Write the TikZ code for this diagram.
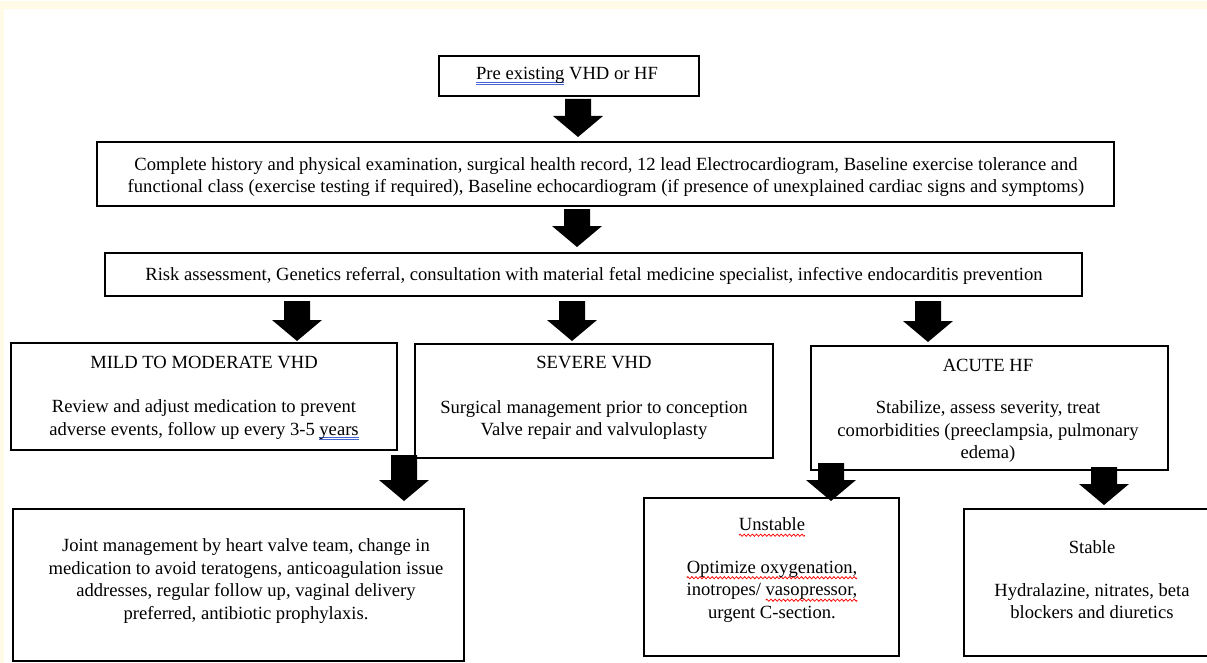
\documentclass[tikz,border=0pt]{standalone}
\usepackage{fontspec}
\setmainfont{Liberation Serif}
\definecolor{cream}{RGB}{255,251,231}
\definecolor{wordblue}{RGB}{70,100,210}
\newsavebox\wavebox
\newcommand\wavy[1]{\setbox0\hbox{#1}\rlap{\raisebox{-4.5bp}{\hbox to \wd0{\xleaders\copy\wavebox\hfill}}}\box0\relax}
\newcommand\dblul[1]{\setbox0\hbox{#1}\rlap{\color{wordblue}\rule[-2.4bp]{\wd0}{0.7bp}}\rlap{\color{wordblue}\rule[-4.4bp]{\wd0}{0.7bp}}\box0\relax}
\newcommand\blockarrow[2]{\fill[black,shift={(#1)}] (-13,0) -- (13,0) -- (13,{#2-21}) -- (25,{#2-21}) -- (0,#2) -- (-25,{#2-21}) -- (-13,{#2-21}) -- cycle;}
\begin{document}
\begin{tikzpicture}[x=1bp,y=-1bp,
  box/.style={draw=black,line width=1.8bp,fill=white,inner sep=0pt},
  txt/.style={align=center,inner sep=0pt,text=black,font={\fontsize{18.6bp}{22.5bp}\selectfont}}]
\sbox\wavebox{\begin{pgfpicture}%
\pgfpathrectangle{\pgfpointorigin}{\pgfpoint{4bp}{1bp}}\pgfusepath{use as bounding box}%
\pgfsetlinewidth{0.75bp}\pgfsetstrokecolor{red}%
\pgfpathmoveto{\pgfpoint{0bp}{0bp}}%
\pgfpathsine{\pgfpoint{1bp}{1.1bp}}%
\pgfpathcosine{\pgfpoint{1bp}{-1.1bp}}%
\pgfpathsine{\pgfpoint{1bp}{-1.1bp}}%
\pgfpathcosine{\pgfpoint{1bp}{1.1bp}}%
\pgfusepath{stroke}%
\end{pgfpicture}}
\useasboundingbox (0,0) rectangle (1207,662);
\fill[cream] (0,0) rectangle (1207,662);
\fill[white] (4,8) rectangle (1207,662);
% boxes
\node[box,minimum width=260bp,minimum height=40bp] (pre) at (569,75) {};
\node[box,minimum width=1017bp,minimum height=64bp] (hist) at (605.5,173) {};
\node[box,minimum width=977bp,minimum height=43bp] (risk) at (593.5,273.5) {};
\node[box,minimum width=386bp,minimum height=107bp] (mild) at (204,395.5) {};
\node[box,minimum width=358bp,minimum height=114bp] (severe) at (594,400) {};
\node[box,minimum width=357bp,minimum height=124bp] (acute) at (989.5,407) {};
\node[box,minimum width=451bp,minimum height=152bp] (joint) at (238.5,584) {};
\node[box,minimum width=255bp,minimum height=158bp] (unstable) at (771.5,576) {};
\node[box,minimum width=251bp,minimum height=147bp] (stable) at (1089.5,581.5) {};
% texts
\node[txt] (preT) at (567,75) {\dblul{Pre existing} VHD or HF};
\node[txt] (histT) at (606,176) {Complete history and physical examination, surgical health record, 12 lead Electrocardiogram, Baseline exercise tolerance and\\functional class (exercise testing if required), Baseline echocardiogram (if presence of unexplained cardiac signs and symptoms)};
\node[txt] (riskT) at (594,275) {Risk assessment, Genetics referral, consultation with material fetal medicine specialist, infective endocarditis prevention};
\node[txt] (mildT) at (204,397) {MILD TO MODERATE VHD\\[22bp]Review and adjust medication to prevent\\adverse events, follow up every 3-5 \dblul{years}};
\node[txt] (severeT) at (594,397) {SEVERE VHD\\[22bp]Surgical management prior to conception\\Valve repair and valvuloplasty};
\node[txt] (acuteT) at (988,410) {ACUTE HF\\[20bp]Stabilize, assess severity, treat\\comorbidities (preeclampsia, pulmonary\\edema)};
\node[txt] (jointT) at (246,580) {Joint management by heart valve team, change in\\medication to avoid teratogens, anticoagulation issue\\addresses, regular follow up, vaginal delivery\\preferred, antibiotic prophylaxis.};
\node[txt] (unstableT) at (772,569) {\wavy{Unstable}\\[20bp]\wavy{Optimize oxygenation,}\\inotropes/ \wavy{vasopressor,}\\urgent C-section.};
\node[txt] (stableT) at (1092,579) {Stable\\[20bp]Hydralazine, nitrates, beta\\blockers and diuretics};
% arrow anchors
\coordinate (a1) at (578,98);
\coordinate (a2) at (577,208);
\coordinate (a3) at (297,300);
\coordinate (a4) at (572,300);
\coordinate (a5) at (928,300);
\coordinate (a6) at (404,454);
\coordinate (a7) at (831,462);
\coordinate (a8) at (1104,466);
\blockarrow{a1}{38}
\blockarrow{a2}{38}
\blockarrow{a3}{40}
\blockarrow{a4}{40}
\blockarrow{a5}{41}
\blockarrow{a6}{46}
\blockarrow{a7}{38}
\blockarrow{a8}{38}
\end{tikzpicture}
\end{document}
